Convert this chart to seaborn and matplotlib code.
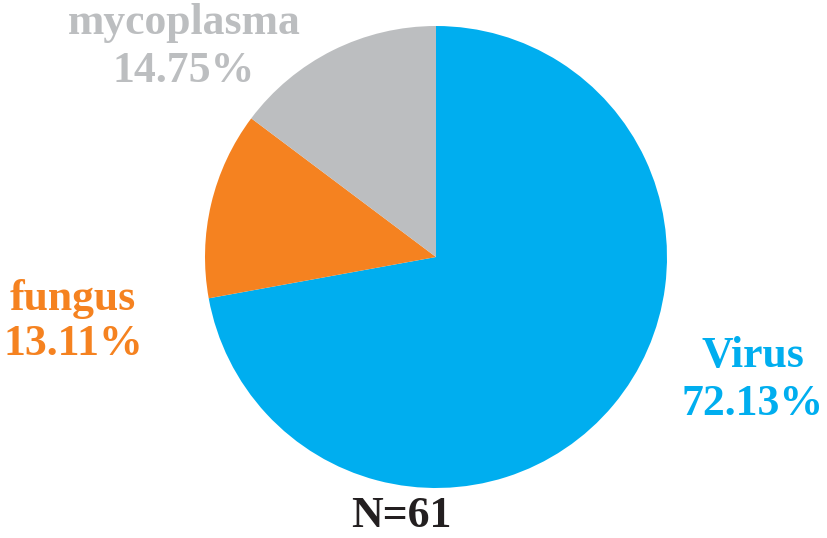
import matplotlib
matplotlib.use("Agg")
import matplotlib.pyplot as plt
import seaborn as sns

categories = ["Virus", "fungus", "mycoplasma"]
shares = [72.13, 13.11, 14.75]
colors = ["#00AEEF", "#F58220", "#BCBEC0"]
total_label = "N=61"

sns.set_theme(style="white")
plt.rcParams['font.family'] = ['Liberation Serif', 'DejaVu Serif']

W, H = 827, 538
fig = plt.figure(figsize=(W / 100, H / 100), dpi=100)
ax = fig.add_axes([0, 0, 1, 1])

ax.pie(shares, colors=colors, startangle=90, counterclock=False,
       center=(436, H - 257), radius=231, frame=True,
       wedgeprops=dict(linewidth=0))
ax.set_xlim(0, W)
ax.set_ylim(0, H)
ax.set_aspect('equal')
ax.axis('off')

label_pos = {
    "Virus": (753, 367, 415),
    "fungus": (73, 310, 355),
    "mycoplasma": (184, 34, 82),
}
fs = 31.5
for cat, val, col in zip(categories, shares, colors):
    x, b1, b2 = label_pos[cat]
    ax.text(x, H - b1, cat, ha='center', va='baseline', color=col,
            fontsize=fs, fontweight='bold')
    ax.text(x, H - b2, f"{val:.2f}%", ha='center', va='baseline', color=col,
            fontsize=fs, fontweight='bold')

ax.text(401, H - 527, total_label, ha='center', va='baseline', color='#231F20',
        fontsize=fs, fontweight='bold')

fig.savefig("out.png", dpi=100)
